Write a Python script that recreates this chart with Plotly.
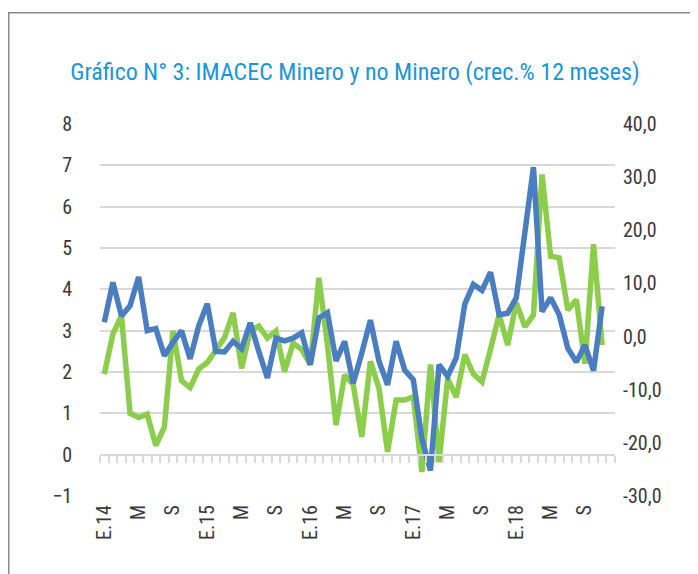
import plotly.graph_objects as go
import pandas as pd

# ---- data ----
months = [d.strftime("%Y-%m") for d in pd.date_range("2014-01-01", "2018-12-01", freq="MS")]

# IMACEC no minero (left axis, %)
no_minero = [1.95, 2.92, 3.36, 1.00, 0.90, 0.98, 0.22, 0.67, 3.00, 1.79, 1.62, 2.07,
             2.23, 2.55, 2.83, 3.43, 2.09, 3.00, 3.11, 2.82, 2.99, 2.01, 2.70, 2.54,
             2.18, 4.28, 2.66, 0.72, 1.93, 1.69, 0.43, 2.26, 1.61, 0.07, 1.32, 1.32,
             1.40, -0.42, 2.18, -0.18, 1.84, 1.39, 2.42, 1.95, 1.76, 2.55, 3.39, 2.65,
             3.68, 3.09, 3.38, 6.78, 4.80, 4.76, 3.50, 3.75, 2.20, 5.09, 2.65]

# IMACEC minero (right axis, %)
minero = [2.7, 10.2, 3.9, 5.8, 11.2, 1.1, 1.5, -3.6, -1.1, 1.1, -4.2, 2.0,
          6.2, -2.8, -2.9, -0.9, -2.3, 2.6, -2.8, -7.8, -0.3, -0.8, -0.3, 0.7,
          -5.3, 3.5, 4.5, -4.6, -0.9, -8.8, -3.1, 3.1, -4.6, -9.1, -0.9, -6.3,
          -8.1, -19.2, -25.2, -5.3, -7.5, -4.0, 6.1, 9.8, 8.7, 12.1, 4.1, 4.4,
          7.3, 19.2, 31.9, 4.7, 7.3, 4.1, -2.2, -4.8, -1.6, -6.4, 5.7]

x_tick_labels = ["E.14", "M", "S", "E.15", "M", "S", "E.16", "M", "S",
                 "E.17", "M", "S", "E.18", "M", "S"]
left_ticks = [-1, 0, 1, 2, 3, 4, 5, 6, 7, 8]
right_ticks = [-30, -20, -10, 0, 10, 20, 30, 40]
right_tick_text = ["-30,0", "-20,0", "-10,0", "0,0", "10,0", "20,0", "30,0", "40,0"]

FONT = "Liberation Sans Narrow, Arial Narrow, Roboto Condensed, DejaVu Sans Condensed, sans-serif"
GREEN = "#8cce4b"
BLUE = "#4a7ec0"
GRID = "#d9d9d9"
TXT = "#3a3a3a"

# page body has an 8px margin: figure is drawn at (8, 8)
W, H = 690, 566
L, R, T, B = 92, 83, 116, 78
plot_w = W - L - R
plot_h = H - T - B

fig = go.Figure()
fig.add_trace(go.Scatter(x=months[:len(no_minero)], y=no_minero, mode="lines",
                         line=dict(color=GREEN, width=5.5), name="No minero",
                         xaxis="x", yaxis="y"))
fig.add_trace(go.Scatter(x=months[:len(minero)], y=minero, mode="lines",
                         line=dict(color=BLUE, width=5.5), name="Minero",
                         xaxis="x", yaxis="y2"))
# invisible trace to carry the axis with monthly tick marks at zero
fig.add_trace(go.Scatter(x=months, y=[None] * len(months), xaxis="x2", yaxis="y",
                         showlegend=False, hoverinfo="skip"))

tick_idx = list(range(0, len(months), 4))[:len(x_tick_labels)]

fig.update_layout(
    width=W, height=H,
    margin=dict(l=L, r=R, t=T, b=B),
    paper_bgcolor="white", plot_bgcolor="white",
    showlegend=False,
    font=dict(family=FONT, color=TXT, size=20),
    title=dict(text="Gráfico N° 3: IMACEC Minero y no Minero (crec.% 12 meses)",
               font=dict(family=FONT, size=24, color="#1a96d8"),
               xref="container", yref="container", x=347 / W, y=1 - 64 / H,
               xanchor="center", yanchor="middle"),
    xaxis=dict(type="category", categoryorder="array", categoryarray=months,
               range=[-0.5, len(months) - 0.5],
               tickmode="array", tickvals=[months[i] for i in tick_idx],
               ticktext=x_tick_labels, tickangle=-90, ticks="", showgrid=False,
               showline=False, zeroline=False, ticklabelstandoff=4,
               tickfont=dict(size=20, color=TXT)),
    xaxis2=dict(type="category", categoryorder="array", categoryarray=months,
                range=[-0.5, len(months) - 0.5], overlaying="x", anchor="free",
                position=1 / 9, showticklabels=False, ticks="outside", ticklen=7,
                tickcolor=GRID, tickwidth=1.5, tickson="boundaries", dtick=1,
                showline=True, linecolor=GRID, linewidth=2, showgrid=False),
    yaxis=dict(range=[-1, 8], tickmode="array", tickvals=left_ticks,
               showgrid=True, gridcolor=GRID, gridwidth=2, zeroline=False,
               showline=False, ticks="", ticklabelstandoff=27,
               tickfont=dict(size=20, color=TXT)),
    yaxis2=dict(range=[-30, 40], overlaying="y", side="right", tickmode="array",
                tickvals=right_ticks, ticktext=right_tick_text, showgrid=False,
                zeroline=False, showline=False, ticks="", ticklabelstandoff=7,
                tickfont=dict(size=20, color=TXT)),
    shapes=[dict(type="rect", xref="paper", yref="paper",
                 x0=(0.75 - L) / plot_w, x1=2.0, y0=-1.0,
                 y1=(plot_h + T - 4.75) / plot_h,
                 line=dict(color="#8a8a8a", width=1.5), layer="below")],
)

fig.write_html("out.html")
